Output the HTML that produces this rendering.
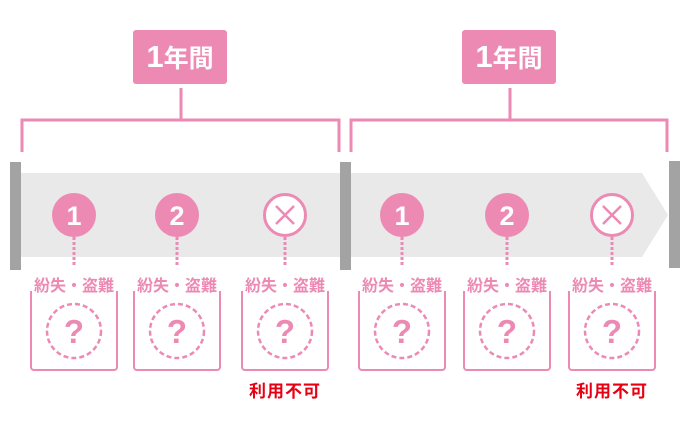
<!DOCTYPE html><html><head><meta charset="utf-8"><style>
body{margin:0;width:690px;height:430px;background:#fff;position:relative;overflow:hidden;font-family:"Liberation Sans","Noto Sans CJK JP",sans-serif}
.a{position:absolute}
.lbl{position:absolute;background:#ec8ab4;color:#fff;font-weight:bold;font-size:25px;text-align:center;line-height:54px;border-radius:3px;width:94px;height:54px;top:30px}
.lbl b{font-size:31px}
.t{position:absolute;width:100px;text-align:center;color:#ec8ab4;font-size:16px;font-weight:bold;top:272px;letter-spacing:0px;white-space:nowrap}
.bx{position:absolute;width:84px;height:78px;top:291px;border:2px solid #ec8ab4;border-top:none;border-radius:0 0 4px 4px}
.r{position:absolute;color:#e60012;font-weight:bold;font-size:17px;top:377px;width:100px;text-align:center;letter-spacing:1px}
</style></head><body>
<div class="lbl" style="left:133px"><b>1</b>年間</div>
<div class="lbl" style="left:462px"><b>1</b>年間</div>
<svg class="a" style="left:0;top:0" width="690" height="430">
<g stroke="#ec8ab4" stroke-width="3" fill="none">
<path d="M181 88V120M22 152V120H339V152"/>
<path d="M510 88V120M351 152V120H667V152"/>
</g>
<rect x="21" y="173" width="319" height="84" fill="#e9e9e9"/>
<polygon points="351,173 642,173 668,215 642,257 351,257" fill="#e9e9e9"/>
<rect x="10" y="162" width="11" height="108" fill="#a3a3a3"/>
<rect x="340" y="162" width="11" height="108" fill="#a3a3a3"/>
<rect x="669" y="161" width="11" height="107" fill="#a3a3a3"/>
<g stroke="#ec8ab4" stroke-width="3" stroke-dasharray="3,2">
<path d="M74 237V266M177 237V266M285 237V266M402 237V266M507 237V266M612 237V266"/>
</g>
<g fill="#ec8ab4">
<circle cx="74" cy="215" r="22"/><circle cx="177" cy="215" r="22"/>
<circle cx="402" cy="215" r="22"/><circle cx="507" cy="215" r="22"/>
</g>
<g fill="#fff" stroke="#ec8ab4" stroke-width="3">
<circle cx="285" cy="215" r="20.5"/><circle cx="612" cy="215" r="20.5"/>
</g>
<g stroke="#ec8ab4" stroke-width="2.5">
<path d="M276 206L294 224M294 206L276 224M603 206L621 224M621 206L603 224"/>
</g>
<g fill="#fff" font-weight="bold" font-size="27" text-anchor="middle" font-family="Liberation Sans,sans-serif">
<text x="74" y="225">1</text><text x="177" y="225">2</text><text x="402" y="225">1</text><text x="507" y="225">2</text>
</g>
<g fill="none" stroke="#ec8ab4" stroke-width="2.5" stroke-dasharray="5,3">
<circle cx="74" cy="331" r="27"/><circle cx="177" cy="331" r="27"/><circle cx="285" cy="331" r="27"/>
<circle cx="402" cy="331" r="27"/><circle cx="507" cy="331" r="27"/><circle cx="612" cy="331" r="27"/>
</g>
<g fill="#ec8ab4" font-weight="bold" font-size="33" text-anchor="middle" font-family="Liberation Sans,sans-serif">
<text x="74" y="343">?</text><text x="177" y="343">?</text><text x="285" y="343">?</text>
<text x="402" y="343">?</text><text x="507" y="343">?</text><text x="612" y="343">?</text>
</g>
</svg>
<div class="t" style="left:24px">紛失・盗難</div><div class="t" style="left:127px">紛失・盗難</div><div class="t" style="left:235px">紛失・盗難</div>
<div class="t" style="left:352px">紛失・盗難</div><div class="t" style="left:457px">紛失・盗難</div><div class="t" style="left:562px">紛失・盗難</div>
<div class="bx" style="left:30px"></div><div class="bx" style="left:133px"></div><div class="bx" style="left:241px"></div>
<div class="bx" style="left:358px"></div><div class="bx" style="left:463px"></div><div class="bx" style="left:568px"></div>
<div class="r" style="left:235px">利用不可</div><div class="r" style="left:562px">利用不可</div>
</body></html>
